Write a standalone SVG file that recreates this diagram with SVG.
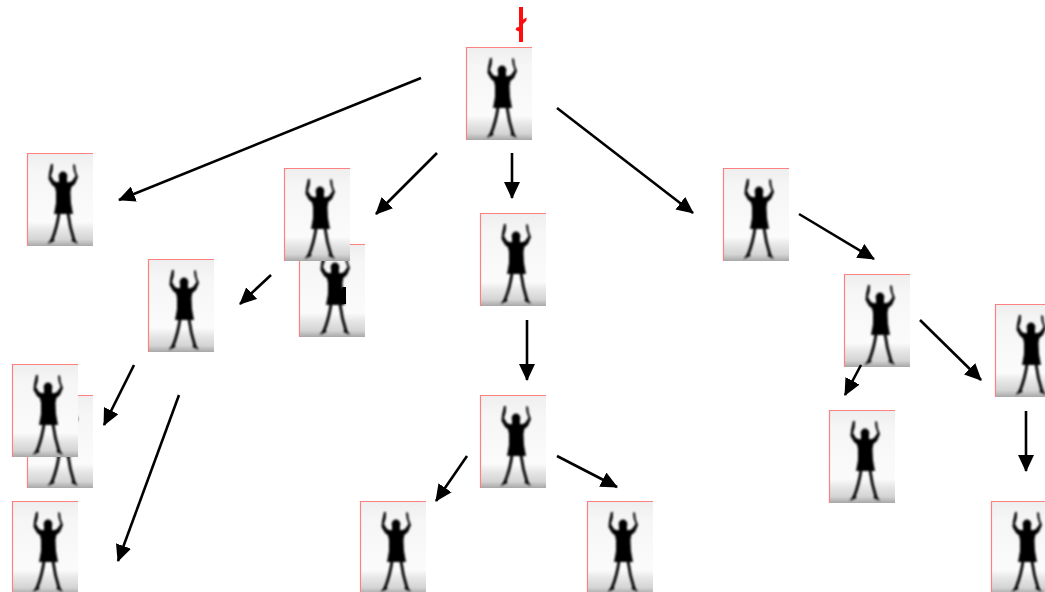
<svg xmlns="http://www.w3.org/2000/svg" width="1045" height="592" viewBox="0 0 1045 592">
<style>
.conn{stroke:#000;stroke-width:2.6;fill:none;marker-end:url(#ah)}
.edge{stroke:#ff8080;stroke-width:1.2;fill:none}
.limb{stroke:#000;fill:none;stroke-linecap:round}
</style>
<defs>
<marker id="ah" markerUnits="userSpaceOnUse" markerWidth="18" markerHeight="16" refX="16" refY="8" orient="auto"><path d="M0 0L17 8L0 16Z" fill="#000"/></marker>
<linearGradient id="bg" x1="0" y1="0" x2="0" y2="1">
<stop offset="0" stop-color="#eeeeee"/><stop offset=".2" stop-color="#f6f6f6"/><stop offset=".74" stop-color="#fbfbfb"/><stop offset=".82" stop-color="#e8e8e8"/><stop offset=".93" stop-color="#d4d4d4"/><stop offset="1" stop-color="#a8a8a8"/>
</linearGradient>
<filter id="soft" x="-20%" y="-20%" width="140%" height="140%"><feGaussianBlur stdDeviation="0.8"/></filter>
<symbol id="person" width="66" height="93" viewBox="0 0 66 93" overflow="visible">
<rect width="66" height="93" fill="url(#bg)"/>
<path class="edge" d="M0.5 93V0.5H66"/>
<g filter="url(#soft)">
<circle cx="36" cy="23" r="4.400" fill="#000"/>
<path fill="#000" d="M32 25H40V29L45 30L43.500 39L44 50L46 61H27L29 50L29 39L27 30L32 29Z"/>
<path fill="#000" d="M24 11L26 11L25.800 17L24 23L27 28L32 30L30 36L25 32L21.500 26L22 20Z"/>
<path fill="#000" d="M46 11.500L48 11.500L48.800 18L51 24L48 31L42 36L40 30L45 28L48.500 23L46.500 17Z"/>
<path class="limb" stroke-width="2.800" d="M32 60C31 68 28.500 78 25 87"/>
<path class="limb" stroke-width="2.800" d="M41 60C42 68 44 78 47 87"/>
<path fill="#000" d="M26 83L27.500 88L20.500 91ZM46 83L44.500 88L51 91Z"/>
</g>
</symbol>
</defs>
<path id="mark" d="M519 7H523V19.500L526.500 17.500L526.500 20.500L523 24V42H519V31.500L515.500 30L516.500 27.500L519 27Z" fill="#ff0d0d"/>
<g id="n1"><use href="#person" x="466" y="47"/></g>
<g id="n2"><use href="#person" x="27" y="153"/></g>
<g id="n4"><use href="#person" x="299" y="244"/><path d="M342.500 287L346 287V304H342.500L339 295Z" fill="#000"/></g>
<g id="n3"><use href="#person" x="284" y="168"/></g>
<g id="n5"><use href="#person" x="148" y="259"/></g>
<g id="n6"><use href="#person" x="480" y="213"/></g>
<g id="n7"><use href="#person" x="723" y="168"/></g>
<g id="n8"><use href="#person" x="844" y="274"/></g>
<g id="n9"><use href="#person" x="995" y="304"/></g>
<g id="n10"><use href="#person" x="27" y="395"/></g>
<g id="n11"><use href="#person" x="12" y="364"/></g>
<g id="n12"><use href="#person" x="12" y="501"/></g>
<g id="n13"><use href="#person" x="480" y="395"/></g>
<g id="n14"><use href="#person" x="360" y="501"/></g>
<g id="n15"><use href="#person" x="587" y="501"/></g>
<g id="n16"><use href="#person" x="829" y="410"/></g>
<g id="n17"><use href="#person" x="991" y="501"/></g>
<g id="connectors">
<line class="conn" x1="421" y1="78" x2="119" y2="200"/>
<line class="conn" x1="437" y1="153" x2="376" y2="214"/>
<line class="conn" x1="512" y1="153" x2="512" y2="198"/>
<line class="conn" x1="557" y1="108" x2="693" y2="213"/>
<line class="conn" x1="271" y1="275" x2="240" y2="304"/>
<line class="conn" x1="527" y1="320" x2="527" y2="380"/>
<line class="conn" x1="799" y1="214" x2="874" y2="259"/>
<line class="conn" x1="920" y1="320" x2="981" y2="380"/>
<line class="conn" x1="134" y1="365" x2="104" y2="425"/>
<line class="conn" x1="179" y1="395" x2="118" y2="561"/>
<line class="conn" x1="861" y1="365" x2="845" y2="395"/>
<line class="conn" x1="1026" y1="411" x2="1026" y2="471"/>
<line class="conn" x1="467" y1="456" x2="436" y2="501"/>
<line class="conn" x1="557" y1="456" x2="617" y2="487"/>
</g>
</svg>
